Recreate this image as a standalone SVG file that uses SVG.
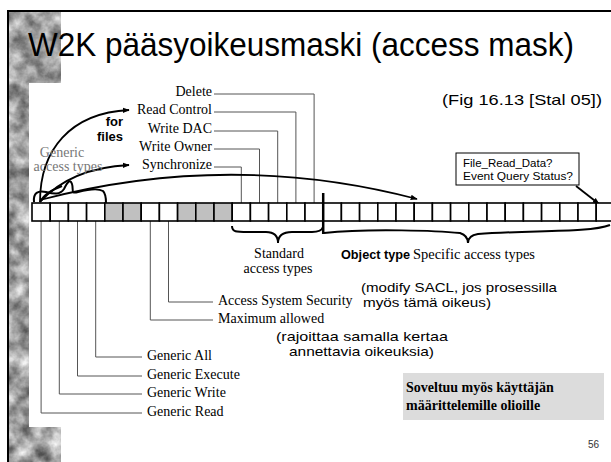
<svg xmlns="http://www.w3.org/2000/svg" width="611" height="462" viewBox="0 0 611 462">
<defs>
<filter id="tex" x="0" y="0" width="100%" height="100%" color-interpolation-filters="sRGB">
<feTurbulence type="fractalNoise" baseFrequency="0.06" numOctaves="4" seed="7"/>
<feColorMatrix type="matrix" values="0.9 0 0 0 0.18  0.9 0 0 0 0.18  0.9 0 0 0 0.18  0 0 0 0 1"/>
</filter>
<marker id="ah" viewBox="0 0 10 10" refX="9" refY="5" markerWidth="7" markerHeight="7" orient="auto" markerUnits="userSpaceOnUse">
<path d="M0,1 L10,5 L0,9 Z" fill="#000"/>
</marker>
<style>
.ser{font-family:"Liberation Serif","Times New Roman",serif;font-size:14px;fill:#000}
.sans{font-family:"Liberation Sans",Arial,sans-serif;fill:#000}
.lead{fill:none;stroke:#555;stroke-width:1}
.cell{fill:#fff;stroke:#000;stroke-width:1.6}
.g{fill:#c0c0c0}
.arr{fill:none;stroke:#000;stroke-width:1.8;marker-end:url(#ah)}
.brace{fill:none;stroke:#000;stroke-width:2}
</style>
</defs>
<rect width="611" height="462" fill="#fff"/>
<rect x="9" y="12" width="52" height="450" fill="#999" filter="url(#tex)"/>
<rect x="29" y="83" width="582" height="344" fill="#fff"/>
<path d="M8,462 V11 H611" fill="none" stroke="#000" stroke-width="2"/>
<text x="28" y="56" font-family="'Liberation Sans Narrow','Arial Narrow','Liberation Sans',Arial,sans-serif" font-size="33" textLength="546" lengthAdjust="spacingAndGlyphs">W2K pääsyoikeusmaski (access mask)</text>

<g id="connectors">
<path class="lead" d="M214,94 H314.1 V203"/>
<path class="lead" d="M214,112 H295.9 V203"/>
<path class="lead" d="M214,131 H277.7 V203"/>
<path class="lead" d="M214,149 H259.5 V203"/>
<path class="lead" d="M214,167 H241.3 V203"/>
<path class="lead" d="M168.5,221 V302 H213"/>
<path class="lead" d="M150.3,221 V320 H213"/>
<path class="lead" d="M95.7,221 V357 H142"/>
<path class="lead" d="M77.5,221 V376 H142"/>
<path class="lead" d="M59.3,221 V394 H142"/>
<path class="lead" d="M41.1,221 V413 H142"/>
<path class="arr" d="M40,202 C40,150 70,113 129,110"/>
<path class="arr" d="M40,202 C60,180 90,167 129,165"/>
<path class="arr" d="M40,200 Q230,150 417,199"/>
<path class="arr" d="M576,186 L599,204"/>
<path class="brace" d="M34,202 C33,193 38,190 46,192 C54,194 60,195 64,189 C67,183 70,178 72,184 C74,190 70,194 78,192 C86,190 98,188 103,191 C106,194 106,198 106,203"/>
<path class="brace" d="M40,202 C44,194 52,190 62,186" stroke-width="1.5"/>
<path class="brace" d="M232,226 C232,232 236,232 248,232 L266,232 C275,232 278,236 278,243 C278,236 282,232 292,232 L312,232 C320,232 322,230 323,227"/>
<path class="brace" d="M324,233 C370,228 440,231 460,233 C466,235 468,239 468,243 C468,238 471,235 478,234 C530,230 590,233 610,225"/>
</g>

<g id="bits">
<rect class="cell" x="32" y="203" width="18.2" height="18"/>
<rect class="cell" x="50.2" y="203" width="18.2" height="18"/>
<rect class="cell" x="68.4" y="203" width="18.2" height="18"/>
<rect class="cell" x="86.6" y="203" width="18.2" height="18"/>
<rect class="cell g" x="104.8" y="203" width="18.2" height="18"/>
<rect class="cell g" x="123" y="203" width="18.2" height="18"/>
<rect class="cell" x="141.2" y="203" width="18.2" height="18"/>
<rect class="cell" x="159.4" y="203" width="18.2" height="18"/>
<rect class="cell g" x="177.6" y="203" width="18.2" height="18"/>
<rect class="cell g" x="195.8" y="203" width="18.2" height="18"/>
<rect class="cell g" x="214" y="203" width="18.2" height="18"/>
<rect class="cell" x="232.2" y="203" width="18.2" height="18"/>
<rect class="cell" x="250.4" y="203" width="18.2" height="18"/>
<rect class="cell" x="268.6" y="203" width="18.2" height="18"/>
<rect class="cell" x="286.8" y="203" width="18.2" height="18"/>
<rect class="cell" x="305" y="203" width="18.2" height="18"/>
<rect class="cell" x="323.2" y="203" width="18.2" height="18"/>
<rect class="cell" x="341.4" y="203" width="18.2" height="18"/>
<rect class="cell" x="359.6" y="203" width="18.2" height="18"/>
<rect class="cell" x="377.8" y="203" width="18.2" height="18"/>
<rect class="cell" x="396" y="203" width="18.2" height="18"/>
<rect class="cell" x="414.2" y="203" width="18.2" height="18"/>
<rect class="cell" x="432.4" y="203" width="18.2" height="18"/>
<rect class="cell" x="450.6" y="203" width="18.2" height="18"/>
<rect class="cell" x="468.8" y="203" width="18.2" height="18"/>
<rect class="cell" x="487" y="203" width="18.2" height="18"/>
<rect class="cell" x="505.2" y="203" width="18.2" height="18"/>
<rect class="cell" x="523.4" y="203" width="18.2" height="18"/>
<rect class="cell" x="541.6" y="203" width="18.2" height="18"/>
<rect class="cell" x="559.8" y="203" width="18.2" height="18"/>
<rect class="cell" x="578" y="203" width="18.2" height="18"/>
<rect class="cell" x="596.2" y="203" width="18.2" height="18"/>
<line x1="323.2" y1="193" x2="323.2" y2="234" stroke="#000" stroke-width="2.5"/>
</g>

<g id="lbl-top">
<text class="ser" x="212" y="96" text-anchor="end">Delete</text>
<text class="ser" x="212" y="114" text-anchor="end">Read Control</text>
<text class="ser" x="212" y="133" text-anchor="end">Write DAC</text>
<text class="ser" x="212" y="151" text-anchor="end">Write Owner</text>
<text class="ser" x="212" y="169" text-anchor="end">Synchronize</text>
</g>
<g id="lbl-generic-types">
<text class="ser" x="62" y="157" text-anchor="middle" style="fill:#777">Generic</text>
<text class="ser" x="68" y="171" text-anchor="middle" style="fill:#777">access types</text>
</g>
<g id="lbl-forfiles">
<text class="sans" x="123" y="126" text-anchor="end" font-size="13" font-weight="bold">for</text>
<text class="sans" x="123" y="141" text-anchor="end" font-size="13" font-weight="bold">files</text>
</g>
<g id="lbl-fig">
<text class="sans" x="442" y="105" font-size="14.5" textLength="160" lengthAdjust="spacingAndGlyphs">(Fig 16.13 [Stal 05])</text>
</g>
<g id="box-file">
<rect x="456" y="153" width="123" height="32" fill="#fff" stroke="#000" stroke-width="1"/>
<text class="sans" x="463" y="167" font-size="11.5">File_Read_Data?</text>
<text class="sans" x="463" y="180" font-size="11.5" textLength="110" lengthAdjust="spacingAndGlyphs">Event Query Status?</text>
</g>
<g id="lbl-standard">
<text class="ser" x="279" y="258" text-anchor="middle">Standard</text>
<text class="ser" x="278" y="273" text-anchor="middle">access types</text>
</g>
<g id="lbl-specific">
<text class="sans" x="341" y="259" font-size="12.7" font-weight="bold">Object type</text>
<text class="ser" x="413" y="259" textLength="122" lengthAdjust="spacingAndGlyphs">Specific access types</text>
</g>
<g id="lbl-bottom">
<text class="ser" x="218" y="305">Access System Security</text>
<text class="ser" x="218" y="323">Maximum allowed</text>
<text class="ser" x="147" y="360">Generic All</text>
<text class="ser" x="147" y="379">Generic Execute</text>
<text class="ser" x="147" y="397">Generic Write</text>
<text class="ser" x="147" y="416">Generic Read</text>
</g>
<g id="note-sacl">
<text class="sans" x="361" y="292" font-size="13" textLength="196" lengthAdjust="spacingAndGlyphs">(modify SACL, jos prosessilla</text>
<text class="sans" x="363" y="307" font-size="13" textLength="128" lengthAdjust="spacingAndGlyphs">myös tämä oikeus)</text>
</g>
<g id="note-max">
<text class="sans" x="276" y="341" font-size="13" textLength="172" lengthAdjust="spacingAndGlyphs">(rajoittaa samalla kertaa</text>
<text class="sans" x="289" y="356" font-size="13" textLength="145" lengthAdjust="spacingAndGlyphs">annettavia oikeuksia)</text>
</g>
<g id="note-user">
<rect x="403" y="373" width="201" height="47" fill="#dcdcdc"/>
<text class="ser" x="406" y="392" font-size="15" font-weight="bold">Soveltuu myös käyttäjän</text>
<text class="ser" x="406" y="410" font-size="15" font-weight="bold">määrittelemille olioille</text>
</g>
<text class="sans" x="588" y="448" font-size="10" style="fill:#333">56</text>
</svg>
